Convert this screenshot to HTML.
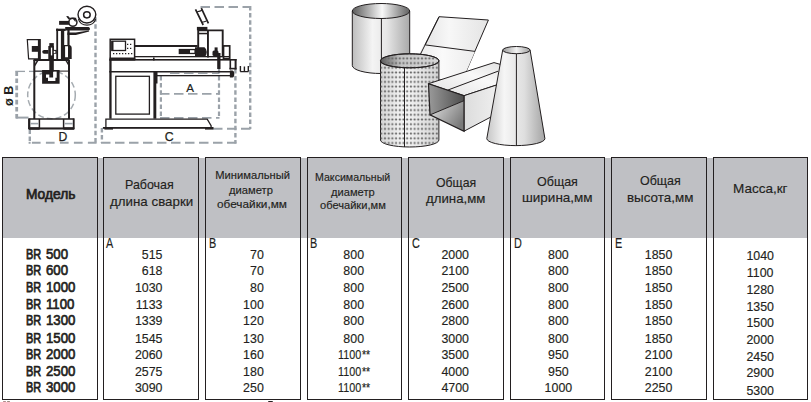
<!DOCTYPE html>
<html><head><meta charset="utf-8">
<style>
html,body{margin:0;padding:0;background:#fff;}
body{width:811px;height:402px;position:relative;overflow:hidden;font-family:"Liberation Sans",sans-serif;color:#231f20;}
.t{position:absolute;white-space:nowrap;transform-origin:0 0;-webkit-text-stroke:0.15px #231f20;}
.hdr{position:absolute;left:2px;top:158px;width:806px;height:80px;background:#bfc0c4;}
.box{position:absolute;top:157px;height:241px;border:1px solid #231f20;}
svg{position:absolute;left:0;top:0;}
</style></head><body>
<svg width="811" height="402" viewBox="0 0 811 402">
<defs>
<linearGradient id="cyl1" x1="0" x2="1" y1="0" y2="0">
 <stop offset="0" stop-color="#bdbdbd"/><stop offset="0.35" stop-color="#f4f4f4"/><stop offset="0.6" stop-color="#e6e6e6"/><stop offset="1" stop-color="#a9a9a9"/>
</linearGradient>
<linearGradient id="cyl1top" x1="0" x2="1" y1="0" y2="0">
 <stop offset="0" stop-color="#5a5a5a"/><stop offset="0.52" stop-color="#f8f8f8"/><stop offset="1" stop-color="#606060"/>
</linearGradient>
<linearGradient id="cone" x1="0" x2="1" y1="0" y2="0">
 <stop offset="0" stop-color="#c6c6c6"/><stop offset="0.3" stop-color="#f6f6f6"/><stop offset="0.65" stop-color="#dedede"/><stop offset="1" stop-color="#a4a4a4"/>
</linearGradient>
<linearGradient id="sheet" x1="0" x2="1" y1="0" y2="0">
 <stop offset="0" stop-color="#dadada"/><stop offset="0.5" stop-color="#f7f7f7"/><stop offset="1" stop-color="#e4e4e4"/>
</linearGradient>
<linearGradient id="ducttop" x1="0" x2="1" y1="1" y2="0">
 <stop offset="0" stop-color="#e2e2e2"/><stop offset="0.6" stop-color="#f8f8f8"/><stop offset="1" stop-color="#e0e0e0"/>
</linearGradient>
<linearGradient id="ductright" x1="0" x2="1" y1="0" y2="0">
 <stop offset="0" stop-color="#dcdcdc"/><stop offset="1" stop-color="#f4f4f4"/>
</linearGradient>
<linearGradient id="ductin" x1="0" x2="1" y1="0" y2="0">
 <stop offset="0" stop-color="#9a9a9a"/><stop offset="1" stop-color="#4e4e4e"/>
</linearGradient>
<linearGradient id="ductbot" x1="0" x2="1" y1="0" y2="0.6">
 <stop offset="0" stop-color="#e6e6e6"/><stop offset="1" stop-color="#7a7a7a"/>
</linearGradient>
<linearGradient id="perf" x1="0" x2="1" y1="0" y2="0">
 <stop offset="0" stop-color="#d4d4d4"/><stop offset="0.4" stop-color="#f6f6f6"/><stop offset="1" stop-color="#d2d2d2"/>
</linearGradient>
<linearGradient id="perftop" x1="0" x2="1" y1="0" y2="0">
 <stop offset="0" stop-color="#5a5a5a"/><stop offset="0.35" stop-color="#c4c4c4"/><stop offset="1" stop-color="#d8d8d8"/>
</linearGradient>
<pattern id="dots" width="3.7" height="4.7" patternUnits="userSpaceOnUse" x="405.35" y="98.35">
 <path d="M1.85,1.05 L3.1,2.35 L1.85,3.65 L0.6,2.35 Z" fill="#6a6a6a"/>
</pattern>
<linearGradient id="sheet2" x1="0" x2="1" y1="0" y2="0">
 <stop offset="0" stop-color="#e6e6e6"/><stop offset="0.5" stop-color="#fafafa"/><stop offset="1" stop-color="#ececec"/>
</linearGradient>
<linearGradient id="conetop" x1="0" x2="1" y1="0" y2="0">
 <stop offset="0" stop-color="#9a9a9a"/><stop offset="0.5" stop-color="#f2f2f2"/><stop offset="1" stop-color="#a0a0a0"/>
</linearGradient>
</defs>

<!-- ================= DRAWING 1 (side view) ================= -->
<g stroke="#9ba2a9" fill="none">
 <line x1="95.5" y1="17.2" x2="95.5" y2="143.5" stroke-width="2.4" stroke-dasharray="4.5 2.6"/>
 <line x1="31.9" y1="142.8" x2="96.6" y2="142.8" stroke-width="1.9" stroke-dasharray="8.7 5.3"/>
 <line x1="28.6" y1="142.8" x2="30.6" y2="142.8" stroke-width="1.9"/>
 <line x1="29.8" y1="129.5" x2="29.8" y2="143.7" stroke-width="2.4" stroke-dasharray="4.5 2.6"/>
 <line x1="16.7" y1="71.4" x2="16.7" y2="119" stroke-width="2.8" stroke-dasharray="4.6 2.5"/>
 <line x1="15.3" y1="71.4" x2="25" y2="71.4" stroke-width="1.3"/>
 <line x1="29" y1="71.4" x2="43" y2="71.4" stroke-width="1.3"/>
 <line x1="16" y1="117.6" x2="28.5" y2="117.6" stroke-width="2"/>
 <circle cx="51.5" cy="95" r="23.8" stroke="#a6acb1" stroke-width="1.5" stroke-dasharray="6 3"/>
</g>
<g fill="#231f20" stroke="none">
 <!-- body lines -->
 <rect x="33.3" y="60" width="2" height="59"/>
 <rect x="68" y="60" width="2" height="59"/>
 <rect x="33.5" y="59" width="36" height="2"/>
 <polygon points="36.5,61 38.3,61 34.8,66.8 34.5,64.5"/>
 <polygon points="65.5,61 67.3,61 69.5,65.5 69.2,67"/>
 <rect x="34" y="70.6" width="35" height="1"/>
 <!-- clamp -->
 <path d="M42.1,70.1 H59.6 V83.7 H42.1 Z M46,74.6 H52.8 V70.9 H56.7 V77.8 H55.4 V81 H48 V77.8 H46 Z" fill-rule="evenodd"/>
 <rect x="49.3" y="70" width="3.8" height="7.5"/>
 <!-- torch stem -->
 <rect x="49.3" y="43.1" width="4.5" height="28"/>
 <rect x="48.3" y="46" width="5.5" height="13"/>
 <path d="M44.2,49.9 H48.5 V53.8 H44.2 A2,1.95 0 0 1 44.2,49.9 Z"/>
 <rect x="53.5" y="49.9" width="3.2" height="3.9"/>
 <rect x="50.9" y="47.6" width="1.3" height="7.8" fill="#fff"/>
 <rect x="53.8" y="50.9" width="1.6" height="2.2" fill="#fff"/>
 <!-- control box -->
 <polygon points="27.3,39.7 40,39.7 40,58.9 28.6,58.9" fill="#fff" stroke="#231f20" stroke-width="1.2"/>
 <rect x="37.9" y="39.1" width="2.7" height="20.4"/>
 <rect x="31.8" y="46" width="6.5" height="5.8"/>
 <!-- pillar -->
 <rect x="56.3" y="28.7" width="1.8" height="30.5"/>
 <rect x="60.9" y="29" width="3.3" height="30"/>
 <rect x="56.1" y="28.7" width="9.5" height="2.3"/>
 <rect x="67.4" y="30" width="2.2" height="16"/>
 <path d="M64,45 H69.6 Q71.7,45.4 71.7,47.8 V58.9 H64 Z M65.1,46.3 V57.3 H68 V46.3 Z" fill-rule="evenodd"/>
 <!-- arm bar -->
 <path d="M65.2,27 H88.6 Q90,27.4 90,28.8 Q90,30.3 88.6,30.5 H65.2 Z"/>
 <polygon points="67.4,32.6 75.8,32.6 88.9,30.6 89.2,31.4 75.8,34.9 67.4,34.9"/>
 <!-- hook -->
 <polygon points="66.1,16.2 68.2,15.9 69.6,17.8 69.9,19.3 68.6,19.6"/>
 <path d="M69.3,18.4 H76.2" stroke="#231f20" stroke-width="1.3" fill="none"/>
 <circle cx="72.9" cy="22.3" r="4.05" stroke="#231f20" stroke-width="1.5" fill="none"/>
 <polygon points="72.6,18.6 76.1,18.8 75.4,21.9"/>
 <rect x="59.1" y="20.9" width="10.1" height="3.9"/>
</g>
<g fill="none" stroke="#231f20">
 <ellipse cx="86.9" cy="14.6" rx="8.9" ry="8.4" stroke-width="1.4" fill="#fff"/>
 <ellipse cx="86.9" cy="14.8" rx="3.3" ry="3.1" stroke-width="1.5"/>
 <path d="M78.4,19.2 A8.8,7.6 0 0 0 95.6,19.2" stroke-width="1.2"/>
 <!-- base -->
 <rect x="29.3" y="119" width="44.4" height="9.6" stroke-width="1.5"/>
 <line x1="28.6" y1="128.4" x2="74.3" y2="128.4" stroke-width="1.8"/>
 <rect x="29" y="127.3" width="10.7" height="2.4" fill="#231f20" stroke="none"/>
 <rect x="63.4" y="127.3" width="10.4" height="2.4" fill="#231f20" stroke="none"/>
 <line x1="29.2" y1="118.6" x2="29.2" y2="129.2" stroke-width="2.2"/>
 <line x1="39.4" y1="119" x2="39.4" y2="128.6" stroke-width="1.5"/>
 <line x1="63.6" y1="119" x2="63.6" y2="128.6" stroke-width="1.5"/>
 <line x1="73.6" y1="118.6" x2="73.6" y2="129.2" stroke-width="1.5"/>
 <line x1="30.5" y1="123.6" x2="38.6" y2="123.6" stroke="#9ba2a9" stroke-width="1.6"/>
 <line x1="64.5" y1="123.6" x2="72.8" y2="123.6" stroke="#9ba2a9" stroke-width="1.6"/>
</g>
<text x="62.8" y="141" font-family="Liberation Sans" font-size="12.2" text-anchor="middle" fill="#231f20" stroke="#231f20" stroke-width="0.25">D</text>
<text transform="translate(13.3,95.8) rotate(-90)" font-family="Liberation Sans" font-size="12.6" font-weight="bold" text-anchor="middle" fill="#231f20">ø B</text>

<!-- ================= DRAWING 2 (front view) ================= -->
<g stroke="#9ba2a9" fill="none">
 <line x1="200.5" y1="7" x2="250.8" y2="7" stroke-width="1.9" stroke-dasharray="9.5 4.5"/>
 <line x1="250.2" y1="6" x2="250.2" y2="129" stroke-width="2.4" stroke-dasharray="4.5 2.6"/>
 <line x1="213" y1="128.7" x2="251" y2="128.7" stroke-width="1.9" stroke-dasharray="9.5 4.5"/>
 <line x1="101.9" y1="128" x2="101.9" y2="143" stroke-width="2.4" stroke-dasharray="4.5 2.6"/>
 <line x1="101" y1="142.8" x2="236.4" y2="142.8" stroke-width="2" stroke-dasharray="9.5 4.5"/>
 <line x1="235.4" y1="69" x2="235.4" y2="143.4" stroke-width="2.4" stroke-dasharray="4.5 2.6"/>
 <line x1="219" y1="69" x2="219" y2="118" stroke-width="2.2" stroke-dasharray="4.5 2.6"/>
 <line x1="160.9" y1="76" x2="160.9" y2="118" stroke-width="2.2" stroke-dasharray="4.5 2.6"/>
 <line x1="160" y1="117.9" x2="219.5" y2="117.9" stroke-width="1.9" stroke-dasharray="9.5 4.5"/>
 <line x1="160" y1="93.9" x2="219.5" y2="93.9" stroke-width="1.9" stroke-dasharray="9.5 4.5"/>
 <line x1="170" y1="73.4" x2="219" y2="73.4" stroke-width="1.4" stroke-dasharray="9.5 4.5"/>
</g>
<g fill="#231f20" stroke="none">
 <!-- left frame and table -->
 <rect x="109.3" y="59.4" width="2.3" height="59.3"/>
 <rect x="153.4" y="71.5" width="2.9" height="47.2"/>
 <rect x="155.5" y="72" width="2" height="11.5"/>
 <rect x="109.3" y="59" width="127.3" height="1.6"/>
 <rect x="109.3" y="71" width="123" height="1.5"/>
 <rect x="156" y="75" width="76.5" height="1.3"/>
 <path d="M229.9,70.6 H232.5 Q234.3,71 234.3,74 Q234.3,77.3 232.5,77.5 H229.9 Z"/>
 <rect x="234.6" y="59" width="2" height="10.4"/>
 <rect x="229.5" y="59" width="1.6" height="10.4"/><rect x="229.5" y="67.8" width="7" height="1.6"/>
 <!-- beam -->
 <rect x="134.6" y="45" width="63" height="2"/>
 <rect x="134.6" y="56" width="95" height="1.3"/>
 <rect x="153" y="57.5" width="1.6" height="3"/>
 <!-- control panel -->
 <rect x="110.2" y="39.3" width="24.4" height="19.3" fill="#fff" stroke="#231f20" stroke-width="1.5"/>
 <rect x="111.8" y="41.2" width="13.7" height="9.3" fill="#fff" stroke="#231f20" stroke-width="1.3"/>
 <rect x="111.6" y="41" width="1.9" height="9.7"/>
 <rect x="109.5" y="57.6" width="25.8" height="3"/>
 <g stroke="#231f20" stroke-width="1.3" stroke-dasharray="1.3 1.7">
  <line x1="127" y1="44.3" x2="133" y2="44.3"/>
  <line x1="127" y1="48.4" x2="133" y2="48.4"/>
  <line x1="113" y1="53.6" x2="133" y2="53.6"/>
 </g>
 <!-- carriage -->
 <rect x="196.9" y="26.9" width="10.5" height="3.4"/>
 <path d="M198.2,57 V30.4 H222.7 V57" fill="none" stroke="#231f20" stroke-width="1.9"/>
 <rect x="207" y="30" width="1.9" height="27.5"/>
 <rect x="198" y="32.8" width="10" height="1.5"/>
 <rect x="223.5" y="45.9" width="6.2" height="12.8" fill="none" stroke="#231f20" stroke-width="1.7"/>
 <!-- torch -->
 <rect x="178.7" y="48.9" width="17" height="5.2"/>
 <rect x="190" y="50.2" width="4.4" height="2.6" fill="#fff"/>
 <path d="M195,47.2 H204.5 Q206.8,49 206.8,52 Q206.8,55.5 204.5,57 H195 Z"/>
 <rect x="214.6" y="47.4" width="3" height="9"/><rect x="212.5" y="50.5" width="6" height="5.5" rx="1.5"/>
 <rect x="217.2" y="53" width="3.3" height="16"/>
 <!-- door + base -->
 <rect x="115.8" y="76.3" width="33.6" height="37.8" fill="none" stroke="#231f20" stroke-width="1.3"/>
 <path d="M105.9,127.8 V119.1 H207.2 L211.1,125.6 V127.8" fill="none" stroke="#231f20" stroke-width="1.3"/>
 <rect x="102.9" y="127" width="110.4" height="1.8"/>
 <rect x="104.4" y="127" width="8.6" height="2.6"/>
 <rect x="205" y="127" width="8.3" height="2.6"/>
</g>
<g fill="none" stroke="#231f20" stroke-width="1.1">
 <path d="M195.5,9.4 L203.2,25 M201.3,8.2 L208.4,23.4" stroke-width="1.7"/>
 <path d="M197.1,11.8 Q200,11.5 202.6,10.1 M202,22.3 Q204.5,22 206.4,21" stroke-width="1.1"/>
</g>
<text x="190.1" y="92" font-family="Liberation Sans" font-size="11.6" text-anchor="middle" fill="#231f20" stroke="#231f20" stroke-width="0.2">A</text>
<text x="169.2" y="141.2" font-family="Liberation Sans" font-size="12.3" text-anchor="middle" fill="#231f20" stroke="#231f20" stroke-width="0.25">C</text>
<path d="M240.2,71.6 H248.5 M240.4,66.1 V71.6 M244.4,66.6 V71.6 M248.3,66.1 V71.6" stroke="#231f20" stroke-width="1.4" fill="none"/>

<!-- ================= ILLUSTRATION ================= -->
<g stroke="#231f20" stroke-width="1">
 <!-- flat sheet -->
 <polygon points="439.1,16.7 488.4,20 461.6,82 410.1,75" fill="url(#sheet)"/>
 <polygon points="423.5,44.7 475,51.4 461.6,82 410.1,75" fill="url(#sheet2)" stroke="none"/>
 <line x1="425.2" y1="44.9" x2="475" y2="51.4"/>
 <line x1="439.1" y1="16.7" x2="410.1" y2="75"/>
 <!-- back cylinder -->
 <path d="M352.3,11 V65.5 A28.7,8 0 0 0 409.7,65.5 V11 Z" fill="url(#cyl1)"/>
 <ellipse cx="381" cy="11" rx="28.7" ry="7.5" fill="url(#cyl1top)"/>
 <line x1="381.4" y1="18.5" x2="381.4" y2="73.5"/>
 <!-- perforated cylinder -->
 <path d="M380.5,60.8 V140 A29.2,7 0 0 0 438.9,140 V60.8 Z" fill="url(#perf)"/>
 <path d="M380.5,60.8 V140 A29.2,7 0 0 0 438.9,140 V60.8 Z" fill="url(#dots)" stroke="none"/>
 <ellipse cx="409.7" cy="60.8" rx="29.2" ry="7" fill="url(#perftop)"/>
 <ellipse cx="409.7" cy="60.8" rx="29.2" ry="7" fill="url(#dots)"/>
 <line x1="404.5" y1="67.8" x2="404.5" y2="147"/>
 <!-- duct -->
 <polygon points="428.5,83.7 494,62.6 506,66 506,81.9 464,95.7" fill="url(#ducttop)"/>
 <polygon points="464,95.7 506,81.9 506,109 464,131.2" fill="url(#ductright)"/>
 <polygon points="428.5,83.7 464,95.7 464,100.7 430,114.9" fill="url(#ductin)" stroke="none"/>
 <polygon points="430,114.9 464,100.7 464,131.2" fill="url(#ductbot)" stroke="none"/>
 <polygon points="428.5,83.7 464,95.7 464,131.2 430,114.9" fill="none" stroke-width="1.2"/>
 <line x1="430" y1="114.9" x2="464" y2="100.7"/>
 <line x1="448" y1="90" x2="498" y2="71.2"/>
 <!-- cone -->
 <path d="M502.7,50.1 L486.8,138.6 A29,7 0 0 0 544.9,138.6 L530.1,50.1 Z" fill="url(#cone)"/>
 <ellipse cx="516.4" cy="50.1" rx="13.7" ry="3.6" fill="url(#conetop)"/>
 <line x1="516.4" y1="53.7" x2="516.4" y2="145.6"/>
</g>
</svg>

<div class="hdr"></div>
<div class="box" style="left:2px;width:94px"></div><div class="box" style="left:103px;width:94px"></div><div class="box" style="left:205px;width:94px"></div><div class="box" style="left:307px;width:93px"></div><div class="box" style="left:408px;width:94px"></div><div class="box" style="left:510px;width:93px"></div><div class="box" style="left:611px;width:94px"></div><div class="box" style="left:713px;width:93px"></div>
<div class="t" style="left:26.20px;top:188.00px;font-size:13.9px;line-height:13.9px;transform:scaleX(0.990);-webkit-text-stroke:0.7px #231f20">Модель</div><div class="t" style="left:125.20px;top:179.00px;font-size:12.7px;line-height:12.7px;transform:scaleX(0.981)">Рабочая</div><div class="t" style="left:109.70px;top:196.00px;font-size:12.7px;line-height:12.7px;transform:scaleX(1.051)">длина сварки</div><div class="t" style="left:215.30px;top:170.00px;font-size:11.2px;line-height:11.2px">Минимальный</div><div class="t" style="left:229.00px;top:185.00px;font-size:11.2px;line-height:11.2px">диаметр</div><div class="t" style="left:216.80px;top:199.00px;font-size:11.2px;line-height:11.2px;transform:scaleX(1.055)">обечайки,мм</div><div class="t" style="left:314.70px;top:172.00px;font-size:11.2px;line-height:11.2px;transform:scaleX(0.949)">Максимальный</div><div class="t" style="left:330.70px;top:187.00px;font-size:11.2px;line-height:11.2px;transform:scaleX(0.995)">диаметр</div><div class="t" style="left:319.60px;top:200.00px;font-size:11.2px;line-height:11.2px;transform:scaleX(0.992)">обечайки,мм</div><div class="t" style="left:435.60px;top:177.00px;font-size:12.7px;line-height:12.7px;transform:scaleX(0.966)">Общая</div><div class="t" style="left:426.10px;top:193.00px;font-size:12.7px;line-height:12.7px;transform:scaleX(1.044)">длина,мм</div><div class="t" style="left:537.20px;top:176.00px;font-size:12.7px;line-height:12.7px;transform:scaleX(0.985)">Общая</div><div class="t" style="left:522.20px;top:192.00px;font-size:12.7px;line-height:12.7px;transform:scaleX(1.063)">ширина,мм</div><div class="t" style="left:640.00px;top:175.00px;font-size:12.7px;line-height:12.7px;transform:scaleX(0.980)">Общая</div><div class="t" style="left:627.40px;top:192.00px;font-size:12.7px;line-height:12.7px;transform:scaleX(1.057)">высота,мм</div><div class="t" style="left:733.30px;top:183.00px;font-size:12.7px;line-height:12.7px;transform:scaleX(1.065)">Масса,кг</div><div class="t" style="left:26.00px;top:248.00px;font-size:13.9px;line-height:13.9px;transform:scaleX(0.787);-webkit-text-stroke:0.75px #231f20">BR</div><div class="t" style="left:46.20px;top:248.00px;font-size:13.9px;line-height:13.9px;transform:scaleX(0.950);-webkit-text-stroke:0.65px #231f20">500</div><div class="t" style="left:141.82px;top:249.00px;font-size:12.4px;line-height:12.4px">515</div><div class="t" style="left:250.01px;top:249.00px;font-size:12.4px;line-height:12.4px">70</div><div class="t" style="left:441.40px;top:249.00px;font-size:12.4px;line-height:12.4px">2000</div><div class="t" style="left:548.06px;top:249.00px;font-size:12.4px;line-height:12.4px">800</div><div class="t" style="left:644.81px;top:249.00px;font-size:12.4px;line-height:12.4px">1850</div><div class="t" style="left:343.36px;top:249.00px;font-size:12.4px;line-height:12.4px">800</div><div class="t" style="left:746.41px;top:250.00px;font-size:12.4px;line-height:12.4px">1040</div><div class="t" style="left:26.00px;top:264.00px;font-size:13.9px;line-height:13.9px;transform:scaleX(0.787);-webkit-text-stroke:0.75px #231f20">BR</div><div class="t" style="left:46.20px;top:264.00px;font-size:13.9px;line-height:13.9px;transform:scaleX(0.950);-webkit-text-stroke:0.65px #231f20">600</div><div class="t" style="left:141.82px;top:265.00px;font-size:12.4px;line-height:12.4px">618</div><div class="t" style="left:250.01px;top:265.00px;font-size:12.4px;line-height:12.4px">70</div><div class="t" style="left:441.40px;top:265.00px;font-size:12.4px;line-height:12.4px">2100</div><div class="t" style="left:548.06px;top:265.00px;font-size:12.4px;line-height:12.4px">800</div><div class="t" style="left:644.81px;top:265.00px;font-size:12.4px;line-height:12.4px">1850</div><div class="t" style="left:343.36px;top:265.00px;font-size:12.4px;line-height:12.4px">800</div><div class="t" style="left:746.87px;top:267.00px;font-size:12.4px;line-height:12.4px">1100</div><div class="t" style="left:26.00px;top:281.00px;font-size:13.9px;line-height:13.9px;transform:scaleX(0.787);-webkit-text-stroke:0.75px #231f20">BR</div><div class="t" style="left:46.20px;top:281.00px;font-size:13.9px;line-height:13.9px;transform:scaleX(0.950);-webkit-text-stroke:0.65px #231f20">1000</div><div class="t" style="left:134.91px;top:282.00px;font-size:12.4px;line-height:12.4px">1030</div><div class="t" style="left:250.01px;top:282.00px;font-size:12.4px;line-height:12.4px">80</div><div class="t" style="left:441.40px;top:282.00px;font-size:12.4px;line-height:12.4px">2500</div><div class="t" style="left:548.06px;top:282.00px;font-size:12.4px;line-height:12.4px">800</div><div class="t" style="left:644.81px;top:282.00px;font-size:12.4px;line-height:12.4px">1850</div><div class="t" style="left:343.36px;top:282.00px;font-size:12.4px;line-height:12.4px">800</div><div class="t" style="left:746.41px;top:284.00px;font-size:12.4px;line-height:12.4px">1280</div><div class="t" style="left:26.00px;top:298.00px;font-size:13.9px;line-height:13.9px;transform:scaleX(0.787);-webkit-text-stroke:0.75px #231f20">BR</div><div class="t" style="left:46.20px;top:298.00px;font-size:13.9px;line-height:13.9px;transform:scaleX(0.950);-webkit-text-stroke:0.65px #231f20">1100</div><div class="t" style="left:135.84px;top:299.00px;font-size:12.4px;line-height:12.4px">1133</div><div class="t" style="left:243.12px;top:299.00px;font-size:12.4px;line-height:12.4px">100</div><div class="t" style="left:441.40px;top:299.00px;font-size:12.4px;line-height:12.4px">2600</div><div class="t" style="left:548.06px;top:299.00px;font-size:12.4px;line-height:12.4px">800</div><div class="t" style="left:644.81px;top:299.00px;font-size:12.4px;line-height:12.4px">1850</div><div class="t" style="left:343.36px;top:299.00px;font-size:12.4px;line-height:12.4px">800</div><div class="t" style="left:746.41px;top:301.00px;font-size:12.4px;line-height:12.4px">1350</div><div class="t" style="left:26.00px;top:314.00px;font-size:13.9px;line-height:13.9px;transform:scaleX(0.787);-webkit-text-stroke:0.75px #231f20">BR</div><div class="t" style="left:46.20px;top:314.00px;font-size:13.9px;line-height:13.9px;transform:scaleX(0.950);-webkit-text-stroke:0.65px #231f20">1300</div><div class="t" style="left:134.91px;top:315.00px;font-size:12.4px;line-height:12.4px">1339</div><div class="t" style="left:243.12px;top:315.00px;font-size:12.4px;line-height:12.4px">120</div><div class="t" style="left:441.40px;top:315.00px;font-size:12.4px;line-height:12.4px">2800</div><div class="t" style="left:548.06px;top:315.00px;font-size:12.4px;line-height:12.4px">800</div><div class="t" style="left:644.81px;top:315.00px;font-size:12.4px;line-height:12.4px">1850</div><div class="t" style="left:343.36px;top:315.00px;font-size:12.4px;line-height:12.4px">800</div><div class="t" style="left:746.41px;top:317.00px;font-size:12.4px;line-height:12.4px">1500</div><div class="t" style="left:26.00px;top:332.00px;font-size:13.9px;line-height:13.9px;transform:scaleX(0.787);-webkit-text-stroke:0.75px #231f20">BR</div><div class="t" style="left:46.20px;top:332.00px;font-size:13.9px;line-height:13.9px;transform:scaleX(0.950);-webkit-text-stroke:0.65px #231f20">1500</div><div class="t" style="left:134.91px;top:333.00px;font-size:12.4px;line-height:12.4px">1545</div><div class="t" style="left:243.12px;top:333.00px;font-size:12.4px;line-height:12.4px">130</div><div class="t" style="left:441.40px;top:333.00px;font-size:12.4px;line-height:12.4px">3000</div><div class="t" style="left:548.06px;top:333.00px;font-size:12.4px;line-height:12.4px">800</div><div class="t" style="left:644.81px;top:333.00px;font-size:12.4px;line-height:12.4px">1850</div><div class="t" style="left:343.36px;top:333.00px;font-size:12.4px;line-height:12.4px">800</div><div class="t" style="left:746.41px;top:334.00px;font-size:12.4px;line-height:12.4px">2000</div><div class="t" style="left:26.00px;top:348.00px;font-size:13.9px;line-height:13.9px;transform:scaleX(0.787);-webkit-text-stroke:0.75px #231f20">BR</div><div class="t" style="left:46.20px;top:348.00px;font-size:13.9px;line-height:13.9px;transform:scaleX(0.950);-webkit-text-stroke:0.65px #231f20">2000</div><div class="t" style="left:134.91px;top:349.00px;font-size:12.4px;line-height:12.4px">2060</div><div class="t" style="left:243.12px;top:349.00px;font-size:12.4px;line-height:12.4px">160</div><div class="t" style="left:441.40px;top:349.00px;font-size:12.4px;line-height:12.4px">3500</div><div class="t" style="left:548.06px;top:349.00px;font-size:12.4px;line-height:12.4px">950</div><div class="t" style="left:644.81px;top:349.00px;font-size:12.4px;line-height:12.4px">2100</div><div class="t" style="left:337.80px;top:349.00px;font-size:12.4px;line-height:12.4px;transform:scaleX(0.870)">1100</div><div class="t" style="left:746.41px;top:351.00px;font-size:12.4px;line-height:12.4px">2450</div><div class="t" style="left:26.00px;top:365.00px;font-size:13.9px;line-height:13.9px;transform:scaleX(0.787);-webkit-text-stroke:0.75px #231f20">BR</div><div class="t" style="left:46.20px;top:365.00px;font-size:13.9px;line-height:13.9px;transform:scaleX(0.950);-webkit-text-stroke:0.65px #231f20">2500</div><div class="t" style="left:134.91px;top:366.00px;font-size:12.4px;line-height:12.4px">2575</div><div class="t" style="left:243.12px;top:366.00px;font-size:12.4px;line-height:12.4px">180</div><div class="t" style="left:441.40px;top:366.00px;font-size:12.4px;line-height:12.4px">4000</div><div class="t" style="left:548.06px;top:366.00px;font-size:12.4px;line-height:12.4px">950</div><div class="t" style="left:644.81px;top:366.00px;font-size:12.4px;line-height:12.4px">2100</div><div class="t" style="left:337.80px;top:366.00px;font-size:12.4px;line-height:12.4px;transform:scaleX(0.870)">1100</div><div class="t" style="left:746.41px;top:367.00px;font-size:12.4px;line-height:12.4px">2900</div><div class="t" style="left:26.00px;top:381.00px;font-size:13.9px;line-height:13.9px;transform:scaleX(0.787);-webkit-text-stroke:0.75px #231f20">BR</div><div class="t" style="left:46.20px;top:381.00px;font-size:13.9px;line-height:13.9px;transform:scaleX(0.950);-webkit-text-stroke:0.65px #231f20">3000</div><div class="t" style="left:134.91px;top:382.00px;font-size:12.4px;line-height:12.4px">3090</div><div class="t" style="left:243.12px;top:382.00px;font-size:12.4px;line-height:12.4px">250</div><div class="t" style="left:441.40px;top:382.00px;font-size:12.4px;line-height:12.4px">4700</div><div class="t" style="left:544.61px;top:382.00px;font-size:12.4px;line-height:12.4px">1000</div><div class="t" style="left:644.81px;top:382.00px;font-size:12.4px;line-height:12.4px">2250</div><div class="t" style="left:337.80px;top:382.00px;font-size:12.4px;line-height:12.4px;transform:scaleX(0.870)">1100</div><div class="t" style="left:746.41px;top:385.00px;font-size:12.4px;line-height:12.4px">5300</div><div class="t" style="left:105.90px;top:237.00px;font-size:13.9px;line-height:13.9px;transform:scaleX(0.780)">A</div><div class="t" style="left:208.60px;top:237.00px;font-size:13.9px;line-height:13.9px;transform:scaleX(0.780)">B</div><div class="t" style="left:309.70px;top:237.00px;font-size:13.9px;line-height:13.9px;transform:scaleX(0.780)">B</div><div class="t" style="left:412.00px;top:237.00px;font-size:13.9px;line-height:13.9px;transform:scaleX(0.780)">C</div><div class="t" style="left:513.70px;top:237.00px;font-size:13.9px;line-height:13.9px;transform:scaleX(0.780)">D</div><div class="t" style="left:614.70px;top:237.00px;font-size:13.9px;line-height:13.9px;transform:scaleX(0.780)">E</div><div class="t" style="left:362.30px;top:349.00px;font-size:12.6px;line-height:12.6px;transform:scaleX(0.827);-webkit-text-stroke:0.2px #231f20">**</div><div class="t" style="left:362.30px;top:366.00px;font-size:12.6px;line-height:12.6px;transform:scaleX(0.827);-webkit-text-stroke:0.2px #231f20">**</div><div class="t" style="left:362.30px;top:382.00px;font-size:12.6px;line-height:12.6px;transform:scaleX(0.827);-webkit-text-stroke:0.2px #231f20">**</div>

<div style="position:absolute;left:3px;top:400.6px;width:3.2px;height:1.6px;border-radius:1px;background:#b08a8a"></div><div style="position:absolute;left:7px;top:400.6px;width:3.4px;height:1.6px;border-radius:1px;background:#9a8a80"></div><div style="position:absolute;left:268.4px;top:400.5px;width:4.2px;height:1.8px;border-radius:2px 2px 0 0;background:#231f20"></div>
</body></html>
